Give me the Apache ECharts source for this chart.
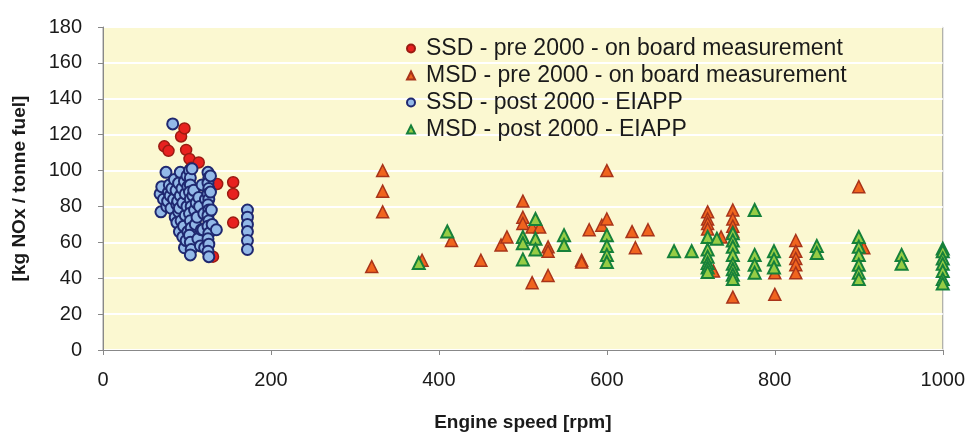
<!DOCTYPE html>
<html>
<head>
<meta charset="utf-8">
<script src="https://cdn.jsdelivr.net/npm/echarts@6/dist/echarts.min.js"></script>
<style>
html,body{margin:0;padding:0;background:#fff;}
#chart{width:968px;height:437px;}
</style>
</head>
<body>
<div id="chart"></div>
<script>
const seriesNames = [
  'SSD - pre 2000 - on board measurement',
  'MSD - pre 2000 - on board measurement',
  'SSD - post 2000 - EIAPP',
  'MSD - post 2000 - EIAPP'
];
const xTicks = [0, 200, 400, 600, 800, 1000];
const yTicks = [0, 20, 40, 60, 80, 100, 120, 140, 160, 180];

// [engine speed rpm, kg NOx / tonne fuel]
const ssdPre = [
  [73,113.5],[78,111],[93,119],[97,123.5],[99,111.5],[103,106.5],[105,101.5],
  [114,104.5],[136,92.5],[113,59],[131,52],[155,93.5],[155,87],[155,71],[88,92]
];
const msdPre = [
  [320,46.5],[333,100],[333,88.5],[333,77],[380,50],[415,61],[450,50],[474,58.5],
  [481,63],[500,83],[500,74],[500,70.5],[511,68.5],[520,68.5],[511,37.5],[530,57.5],
  [530,55],[530,41.5],[570,50],[570,49],[579,67],[594,69.5],[600,100],[600,73],
  [630,66],[634,57],[649,67],[720,77],[720,73],[720,70.5],[720,67.5],[727,44],
  [736,63],[750,78],[750,73],[750,69],[750,66],[750,29.5],[800,43],[800,31],
  [825,61],[825,55],[825,51],[825,47.5],[825,43],[900,91],[906,57]
];
const ssdPost = [
  [68,87],[69,77],[70,91],[72,84],[75,99],[76,80],[77,83],[78,88],[79,92],[80,86],
  [81,79],[82,90],[83,126],[84,84],[85,95],[86,74],[87,89],[88,71],[88,81],[89,83],
  [90,93],[90,77],[91,66],[91,79],[92,99],[92,86],[93,72],[94,90],[95,63],[95,82],
  [96,69],[97,57],[97,94],[98,75],[98,87],[99,61],[100,80],[100,97],[101,66],[101,91],
  [103,100],[104,96],[104,92],[103,88],[104,84],[105,80],[103,76],[104,72],[105,68],
  [103,64],[104,60],[105,56],[104,53],
  [106,101],[107,86],[108,89],[109,78],[110,70],[111,82],[112,74],[113,62],[114,85],
  [115,80],[116,58],[117,67],[118,92],[119,67],[120,76],[121,57],[122,84],
  [125,99],[126,96],[125,93],[126,90],[125,87],[126,84],[125,81],[126,78],[125,75],
  [126,72],[125,69],[126,65],[125,62],[126,59],[125,55],[126,52],
  [128,97],[128,88],[129,78],[130,70],[135,67],
  [172,78],[172,74],[172,70],[172,66],[172,61],[172,56]
];
const msdPost = [
  [376,48.5],[410,66],[500,63],[500,59.5],[500,50.5],[515,73],[515,62],[515,56],
  [549,64],[549,58.5],[600,64],[600,58],[600,53],[600,49],[680,55],[701,55],
  [720,63],[720,56],[720,52],[720,48.5],[720,46],[720,43.5],[731,62],
  [750,65],[750,61],[750,57.5],[750,53],[750,48],[750,45],[750,42],[750,39.5],
  [776,78],[776,53],[776,47.5],[776,43],[799,55],[799,50.5],[799,46],[850,58],[850,54],
  [900,63],[900,57.5],[900,53],[900,47.5],[900,43],[900,39.5],[951,53],[951,48],
  [1000,56.5],[1000,55],[1000,51],[1000,48],[1000,44],[1000,39.5],[1000,37]
];

const FONT = 'Liberation Sans, Arial, sans-serif';
const chart = echarts.init(document.getElementById('chart'), null, {renderer: 'canvas'});
const styles = [
  {symbol: 'circle', size: 11, color: '#E8211F', border: '#9A1B12', bw: 1.5},
  {symbol: 'triangle', size: 12, color: '#F0641E', border: '#A8341A', bw: 1.5},
  {symbol: 'circle', size: 11, color: '#93B9E8', border: '#1F2870', bw: 2},
  {symbol: 'triangle', size: 12, color: '#96CC45', border: '#16813A', bw: 2}
];
const datasets = [ssdPre, msdPre, ssdPost, msdPost];

chart.setOption({
  backgroundColor: '#ffffff',
  animation: false,
  textStyle: {fontFamily: FONT},
  grid: {
    left: 103, right: 23, top: 27, bottom: 82,
    show: true, backgroundColor: '#FBF8D1', borderColor: '#9a9a9a', borderWidth: 1
  },
  legend: {
    orient: 'vertical', left: 401, top: 32, itemGap: 4,
    itemWidth: 8, itemHeight: 8,
    data: seriesNames.map((n, i) => ({name: n, icon: styles[i].symbol})),
    textStyle: {fontSize: 23, color: '#1a1a1a', fontFamily: FONT, padding: [0, 0, 0, 6]}
  },
  xAxis: {
    type: 'value', min: xTicks[0], max: xTicks[xTicks.length - 1], interval: 200,
    name: 'Engine speed [rpm]', nameLocation: 'middle', nameGap: 63,
    nameTextStyle: {fontSize: 19, fontWeight: 'bold', color: '#1a1a1a', fontFamily: FONT},
    axisLine: {show: true, lineStyle: {color: '#888', width: 1}},
    axisTick: {show: true, length: 5, lineStyle: {color: '#888'}},
    axisLabel: {fontSize: 20, color: '#1a1a1a', margin: 20, fontFamily: FONT,
      formatter: v => String(v)},
    splitLine: {show: false}
  },
  yAxis: {
    type: 'value', min: yTicks[0], max: yTicks[yTicks.length - 1], interval: 20,
    name: '[kg NOx / tonne fuel]', nameLocation: 'middle', nameGap: 74, nameRotate: 90,
    nameTextStyle: {fontSize: 19, fontWeight: 'bold', color: '#1a1a1a', fontFamily: FONT},
    axisLine: {show: true, lineStyle: {color: '#888', width: 1}},
    axisTick: {show: true, length: 5, lineStyle: {color: '#888'}},
    axisLabel: {fontSize: 20, color: '#1a1a1a', margin: 21, fontFamily: FONT,
      formatter: v => String(v)},
    splitLine: {show: true, lineStyle: {color: '#ffffff', width: 2}}
  },
  series: datasets.map((d, i) => ({
    name: seriesNames[i],
    type: 'scatter',
    data: d,
    symbol: styles[i].symbol,
    symbolSize: styles[i].size,
    itemStyle: {color: styles[i].color, borderColor: styles[i].border, borderWidth: styles[i].bw, opacity: 1},
    z: 2 + i
  }))
});
</script>
</body>
</html>
